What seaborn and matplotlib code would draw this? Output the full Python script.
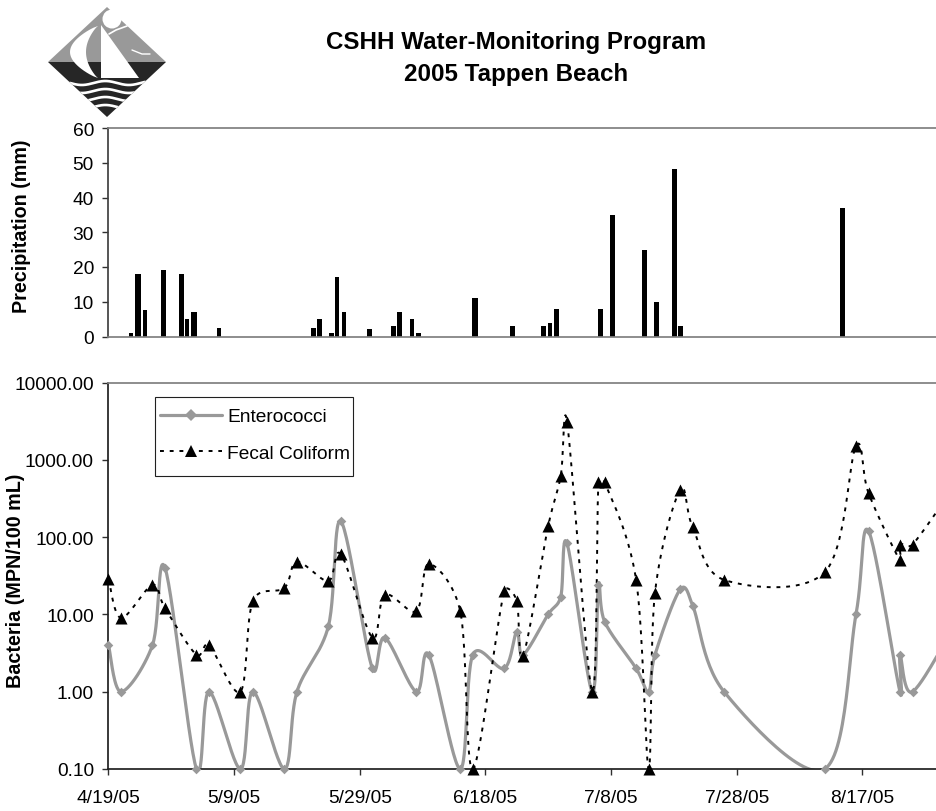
"""CSHH water monitoring chart: precipitation bars over bacteria counts."""

import matplotlib

matplotlib.use("Agg")
import matplotlib.pyplot as plt
import numpy as np
import seaborn as sns
from matplotlib.patches import Circle, Polygon, Rectangle

sns.set_theme(style="white")
plt.rcParams["font.family"] = ["Liberation Sans", "DejaVu Sans"]
plt.rcParams["text.color"] = "black"

# precipitation, x in days since 4/19/05
precip_days = [3.6, 4.7, 5.8, 8.7, 11.6, 12.5, 13.6, 17.6, 32.6, 33.6, 35.5, 36.4, 37.5, 41.5,
               45.4, 46.3, 48.3, 49.4, 58.4, 64.3, 69.3, 70.3, 71.3, 78.3, 80.2, 85.3, 87.2,
               90.1, 91.1, 116.9]
precip_mm = [1, 18, 7.5, 19, 18, 5, 7, 2.5, 2.5, 5, 1, 17, 7, 2.3, 3, 7, 5, 1, 11, 3, 3, 4, 8, 8,
             35, 25, 10, 48.3, 3, 37]
wide_bars = [1, 6, 18]

# bacteria samples, x in days since 4/19/05 (last one lies past the right edge)
sample_days = [0, 2, 7, 9, 14, 16, 21, 23, 28, 30, 35, 37, 42, 44, 49, 51, 56, 58, 63, 65, 66, 70,
               72, 73, 77, 78, 79, 84, 86, 87, 91, 93, 98, 114, 119, 121, 126, 126.01, 128, 135]
enterococci = [4, 1, 4, 40, 0.1, 1, 0.1, 1, 0.1, 1, 7, 160, 2, 5, 1, 3, 0.1, 3, 2, 6, 3, 10, 17, 83,
               1, 24, 8, 2, 1, 3, 21, 13, 1, 0.1, 10, 120, 1, 3, 1, 8]
fecal = [29, 9, 24, 12, 3, 4, 1, 15, 22, 48, 27, 60, 5, 18, 11, 45, 11, 0.1, 20, 15, 2.9, 139, 620,
         3100, 1, 510, 510, 28, 0.1, 19, 410, 135, 28, 35, 1500, 370, 50, 80, 80, 500]

tick_days = [0, 20, 40, 60, 80, 100, 120]
tick_labels = ["4/19/05", "5/9/05", "5/29/05", "6/18/05", "7/8/05", "7/28/05", "8/17/05"]
x_end = 131.9

W, H = 937, 812
PX_DAY, PX_DEC = 6.28, 77.3


def smooth(days, values, steps=30):
    # Excel style smoothed line, worked out in pixel space so short segments do not overshoot
    pts = np.c_[np.asarray(days, float) * PX_DAY, np.log10(values) * PX_DEC]
    pts = np.vstack([pts[0], pts, pts[-1]])
    t = np.linspace(0, 1, steps)[:, None]
    out = []
    for i in range(1, len(pts) - 2):
        p0, p1, p2, p3 = pts[i - 1], pts[i], pts[i + 1], pts[i + 2]
        d12 = np.linalg.norm(p2 - p1)
        d02 = np.linalg.norm(p2 - p0)
        d13 = np.linalg.norm(p3 - p1)
        c1 = p1 + (p2 - p0) * min(1 / 6, d12 / (2 * d02))
        c2 = p2 - (p3 - p1) * min(1 / 6, d12 / (2 * d13))
        out.append((1 - t) ** 3 * p1 + 3 * (1 - t) ** 2 * t * c1 + 3 * (1 - t) * t ** 2 * c2 + t ** 3 * p2)
    out = np.vstack(out)
    return out[:, 0] / PX_DAY, 10 ** (out[:, 1] / PX_DEC)


def draw_overlay(fig):
    # logo and legend frame, in reference pixels
    ax = fig.add_axes([0, 0, 1, 1], zorder=5)
    ax.set_xlim(0, W)
    ax.set_ylim(H, 0)
    ax.axis("off")
    ax.patch.set_alpha(0)
    ax.add_patch(Rectangle((155, 398), 198, 79, fc="none", ec="#202020", lw=0.8))

    ax.add_patch(Polygon([(107, 8), (48, 63), (166, 63)], color="#999999", lw=0))
    lower = Polygon([(48, 63), (166, 63), (107, 118)], color="#262626", lw=0)
    ax.add_patch(lower)
    ax.add_patch(Circle((112, 20), 9.5, color="white", lw=0))
    # sails
    ax.add_patch(Polygon([(101, 26), (101, 79), (139, 79)], color="white", lw=0))
    s = np.linspace(0, 1, 30)
    outer = np.c_[98 - 28 * np.sin(np.pi * s) ** 0.8, 27 + 52 * s]
    inner = np.c_[98 - 12 * np.sin(np.pi * s) ** 0.8, 27 + 52 * s][::-1]
    ax.add_patch(Polygon(np.r_[outer, inner], color="white", lw=0))
    # seagulls
    ax.plot([109, 116, 127], [35, 31, 27], color="white", lw=1.2)
    ax.plot([132, 142, 150], [51, 55, 55], color="white", lw=1.0)
    # waves
    for y0 in (84, 92, 100, 108):
        wx = np.linspace(70, 145, 150)
        line, = ax.plot(wx, y0 + 2 * np.sin((wx - 70) / 7.5), color="white", lw=1.9)
        line.set_clip_path(lower)


fig = plt.figure(figsize=(9.37, 8.12), dpi=100)
left, right = 108.5, 937
ax_top = fig.add_axes([left / W, 1 - 337.5 / H, (right - left) / W, (337.5 - 129) / H])
ax_low = fig.add_axes([left / W, 1 - 770 / H, (right - left) / W, (770 - 383.5) / H])

# top panel
sns.barplot(x=precip_days, y=precip_mm, native_scale=True, color="black", saturation=1, ax=ax_top)
for i, bar in enumerate(ax_top.patches):
    centre = bar.get_x() + bar.get_width() / 2
    bar.set_width(0.95 if i in wide_bars else 0.75)
    bar.set_x(centre - bar.get_width() / 2)
    bar.set_linewidth(0)
ax_top.set_xlim(0, x_end)
ax_top.set_ylim(0, 60)
ax_top.set_yticks(range(0, 61, 10))
ax_top.set_xticks([])
ax_top.spines["right"].set_visible(False)
ax_top.spines["top"].set_color("#808080")
ax_top.spines["bottom"].set_color("#808080")
ax_top.spines["left"].set_color("#404040")

# lower panel
for spine in ("left", "bottom"):
    ax_low.spines[spine].set_color("#202020")
ax_low.spines["right"].set_visible(False)
ax_low.spines["top"].set_color("#808080")

sx, sy = smooth(sample_days, enterococci)
sns.lineplot(x=sx, y=sy, sort=False, estimator=None, color="#999999", lw=2.3, ax=ax_low)
sns.scatterplot(x=sample_days, y=enterococci, marker="D", s=24, color="#999999", linewidth=0,
                ax=ax_low, clip_on=False, zorder=3)
sx, sy = smooth(sample_days, fecal)
sns.lineplot(x=sx, y=sy, sort=False, estimator=None, color="black", lw=1.4, ls=(0, (2, 3)), ax=ax_low)
sns.scatterplot(x=sample_days[:-1], y=fecal[:-1], marker="^", s=75, color="black", linewidth=0,
                ax=ax_low, clip_on=False, zorder=4)

ax_low.set_yscale("log")
ax_low.set_xlim(0, x_end)
ax_low.set_ylim(0.1, 10000)
ax_low.set_yticks([0.1, 1, 10, 100, 1000, 10000])
ax_low.set_yticklabels(["0.10", "1.00", "10.00", "100.00", "1000.00", "10000.00"])
ax_low.minorticks_off()
ax_low.set_xticks(tick_days)
ax_low.set_xticklabels(tick_labels)

for ax in (ax_top, ax_low):
    ax.tick_params(axis="y", left=True, length=4, width=1, color="#303030",
                   labelsize=13.8, labelcolor="black", pad=6.5)
ax_low.tick_params(axis="x", bottom=True, length=4, width=1, color="#303030",
                   labelsize=13.8, labelcolor="black", pad=10.5)

fig.text(22 / W, 1 - 226 / H, "Precipitation (mm)", rotation=90, ha="center", va="center",
         fontsize=14.2, fontweight="bold")
fig.text(16 / W, 1 - 580.5 / H, "Bacteria (MPN/100 mL)", rotation=90, ha="center", va="center",
         fontsize=14.2, fontweight="bold")

# legend drawn from the two series styles, frame comes from the overlay
proxies = [
    plt.Line2D([], [], color="#999999", lw=2.3, marker="D", ms=6, mew=0),
    plt.Line2D([], [], color="black", lw=1.4, ls=(0, (2, 3)), marker="^", ms=9, mew=0),
]
ax_low.legend(proxies, ["Enterococci", "Fecal Coliform"], loc="upper left",
              bbox_to_anchor=((160 - left) / (right - left), (770 - 409) / (770 - 383.5)),
              borderaxespad=0, borderpad=0, fontsize=13.8, frameon=False,
              handlelength=3.25, labelspacing=1.0, handletextpad=0.26)

fig.text(516.5 / W, 1 - 43 / H, "CSHH Water-Monitoring Program", ha="center", va="center",
         fontsize=17.4, fontweight="bold")
fig.text(516.5 / W, 1 - 75 / H, "2005 Tappen Beach", ha="center", va="center",
         fontsize=17.4, fontweight="bold")
draw_overlay(fig)

fig.savefig("out.png", dpi=100)
